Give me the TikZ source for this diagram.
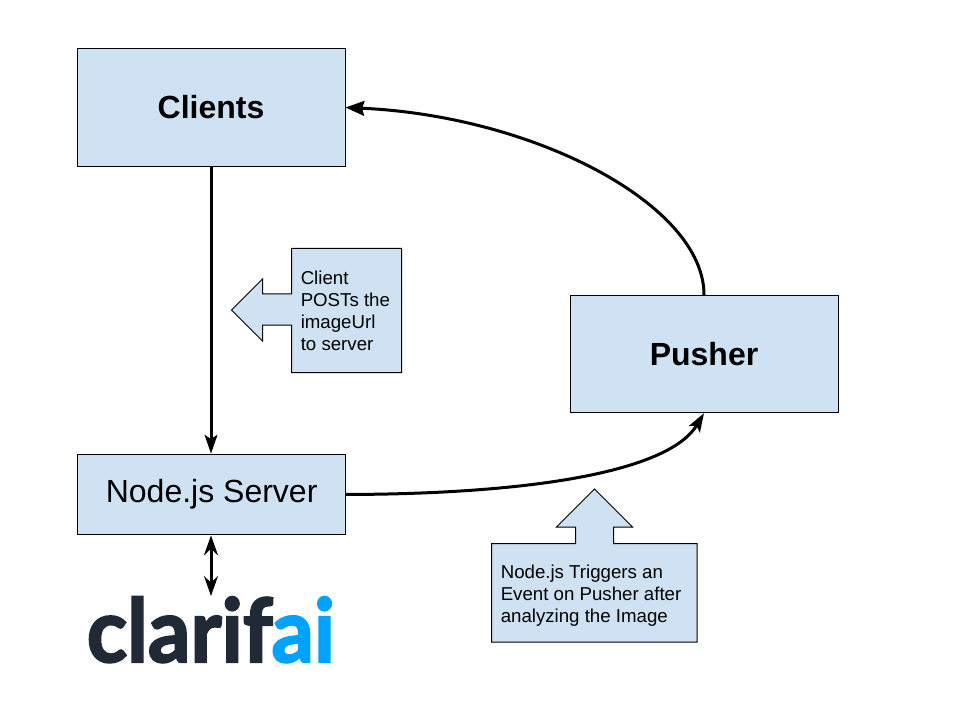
\documentclass[tikz,border=0pt]{standalone}
\usepackage{fontspec}
\setmainfont{Liberation Sans}
\newfontfamily\logofont[BoldFeatures={FakeBold=2.4}]{Lato}
\usetikzlibrary{arrows.meta,positioning}
\definecolor{boxblue}{HTML}{CFE2F3}
\definecolor{logodark}{HTML}{1F2A36}
\definecolor{logoblue}{HTML}{00A2FF}
\tikzset{
  x=0.75pt,y=-0.75pt,
  bigbox/.style={draw=black,fill=boxblue,line width=0.75pt,inner sep=0pt,minimum width=201pt,font=\fontsize{24}{28}\selectfont},
  callout/.style={draw=black,fill=boxblue,line width=0.75pt,line join=miter},
  calltext/.style={inner sep=0pt,align=left,font=\fontsize{14}{16.5}\selectfont},
  conn/.style={line width=2.25pt,-{Stealth[length=14pt,width=9.5pt,inset=3pt]}},
  connbig/.style={line width=2.25pt,-{Stealth[length=14pt,width=11pt,inset=1.5pt]}},
  connsmall/.style={line width=2.25pt,{Stealth[length=15pt,width=10.5pt,inset=5pt]}-{Stealth[length=15pt,width=10.5pt,inset=5pt]}},
}
\begin{document}
\begin{tikzpicture}
\useasboundingbox (0,0) rectangle (960,720);
\fill[white] (0,0) rectangle (960,720);
\node[bigbox,minimum height=88pt] (clients) at (211,107.5) {\raisebox{-1.2pt}{\bfseries Clients}};
\node[bigbox,minimum height=88pt] (pusher) at (704,354) {\raisebox{-1.2pt}{\bfseries Pusher}};
\node[bigbox,minimum height=60.5pt] (server) at (211,494.5) {\raisebox{-0.75pt}{\kern1pt Node.js Server}};
\node[inner sep=0pt,anchor=base,font=\logofont\bfseries\fontsize{66}{66}\selectfont] (logo) at (211,662) {\scalebox{0.95}[1]{\textcolor{logodark}{clarif}\kern-1pt\textcolor{logoblue}{ai}}};
\draw[callout] (291.5,248.5) -- (401.5,248.5) -- (401.5,372.5) -- (291.5,372.5) -- (291.5,325) -- (262.5,325) -- (262.5,341) -- (231.5,310) -- (262.5,279) -- (262.5,294) -- (291.5,294) -- cycle;
\node[calltext,anchor=north west] (posttext) at (300.5,270.5) {Client\\POSTs the\\imageUrl\\to server};
\draw[callout] (491.5,543.5) -- (575.5,543.5) -- (575.5,527) -- (556.5,527) -- (594.5,489) -- (632.5,527) -- (613.5,527) -- (613.5,543.5) -- (697,543.5) -- (697,642) -- (491.5,642) -- cycle;
\node[calltext,anchor=north west] (triggertext) at (500.5,564.5) {Node.js Triggers an\\Event on Pusher after\\analyzing the Image};
\draw[conn] (clients.south) -- (server.north);
\draw[connbig] (pusher.north) .. controls (704,205) and (535,116) .. (clients.east);
\draw[conn] (server.east) .. controls (540,494) and (670,470) .. (pusher.south);
\draw[connsmall] (server.south) -- (211,596);
\end{tikzpicture}
\end{document}
